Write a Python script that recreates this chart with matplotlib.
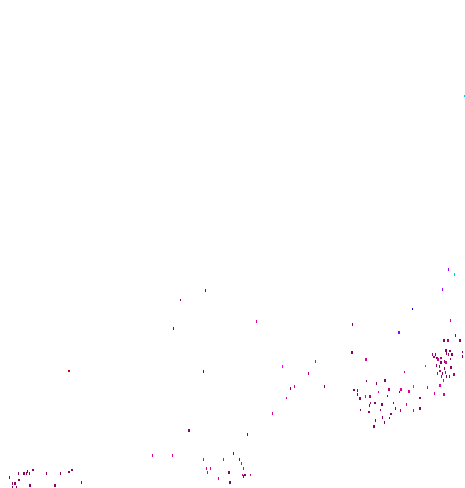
import matplotlib
matplotlib.use("Agg")
import matplotlib.pyplot as plt

# Point data (x, y in chart units; group label)
xs = [450.7, 455.7, 444, 448, 460, 446, 450, 462.7, 432.3, 435.3, 446.7, 448.7, 452, 462.7,
      434, 437, 438, 441, 441, 444.7, 446, 450.7, 425.3, 436.7, 439.3, 444.7, 451, 440,
      437.3, 442.7, 445.3, 446.7, 449.3, 454, 441.3, 443.3, 427.3, 440,
      412.7, 352.7, 399, 352, 366, 366.7, 404.3, 376.3, 385, 413.7, 354, 357.7, 389, 401,
      409, 378.7, 399.3, 357.7, 360, 365.3, 370, 387.7, 420, 370.3, 375, 382, 393.3, 406.3,
      369.3, 360.3, 369, 380.7, 395.3, 400.3, 413.7, 420, 391, 382.7, 389.7, 375.3, 384.3,
      374, 434.7, 444,
      315.3, 282.7, 308.7, 324.7, 290.3, 294.3, 286.7, 272.7,
      205.3, 180.7, 256.3, 173.7, 203.3, 189, 247.3, 152.3, 172.3, 203.3, 233.3, 223.7,
      239.7, 241.3, 206.3, 210.3, 207.3, 229, 243.3, 242.3, 245, 250.3, 243.3, 218.3, 230,
      33, 72, 69, 27.7, 18.3, 24, 26.3, 29.3, 46.7, 60.3, 9.3, 19, 12.3, 15, 81.7, 30, 55,
      12.7, 16.7,
      464.3, 448.7, 454.3, 442.3, 69]
ys = [320.3, 335.7, 340.7, 340.7, 340.7, 350.3, 351, 352, 354.3, 354.7, 353.7, 354.7, 354.3, 356.3,
      357, 358, 359.3, 358, 362.3, 361.3, 362.7, 359, 366, 365.7, 366.7, 368.3, 367.3, 371,
      373.3, 373.3, 372.3, 376.7, 376.7, 374.3, 376.7, 380.7, 387.7, 385.7,
      309, 324.7, 332.7, 352.3, 359.3, 381, 372, 383.3, 380.7, 386.7, 390, 390.3, 389.5, 389.3,
      391.3, 392, 392, 394.7, 398.7, 396.7, 396.7, 396, 398, 403, 403, 404.7, 403, 404.3,
      405.7, 410, 412, 410, 408.7, 410.3, 410.7, 408.7, 414, 417.7, 418, 420.3, 422.3,
      426.7, 393.7, 394.7,
      361.7, 366.7, 373.3, 386.3, 388.7, 386.7, 398, 413.3,
      290.7, 300, 321.3, 328.7, 371.7, 430.7, 434.7, 455.7, 455.7, 459.7, 453.7, 459.7,
      459.7, 463.7, 468.7, 468.7, 472.7, 472.7, 468.7, 475, 475, 475, 476.7, 478.7, 482.7,
      470, 470, 472, 471.7, 473.7, 473.7, 473.7, 473.7, 473.7, 473.7, 477.7, 480, 483.7, 483.7,
      482.7, 485.7, 485.7, 487, 487,
      96, 269.3, 274.3, 289.3, 371]
groups = [
    'c', 'a', 'a', 'b', 'a', 'a', 'a', 'a', 'b', 'a', 'a', 'b', 'a', 'a',
    'b', 'a', 'c', 'b', 'a', 'b', 'c', 'a', 'd', 'a', 'b', 'a', 'a', 'b',
    'b', 'a', 'b', 'a', 'b', 'b', 'b', 'c', 'c', 'c',
    'f', 'a', 'e', 'a', 'c', 'a', 'c', 'a', 'a', 'd', 'a', 'a', 'b', 'c',
    'c', 'c', 'a', 'a', 'a', 'c', 'b', 'a', 'a', 'b', 'a', 'a', 'a', 'c',
    'a', 'a', 'a', 'a', 'a', 'b', 'c', 'a', 'a', 'a', 'a', 'a', 'a',
    'a', 'c', 'c',
    'c', 'd', 'b', 'a', 'a', 'c', 'c', 'c',
    'a', 'a', 'c', 'a', 'a', 'a', 'a', 'c', 'c', 'c', 'a', 'c',
    'a', 'c', 'c', 'c', 'c', 'a', 'c', 'c', 'a', 'c', 'a', 'c', 'a',
    'a', 'a', 'a', 'a', 'a', 'a', 'a', 'a', 'a', 'a', 'a', 'a', 'a', 'a',
    'a', 'a', 'a', 'a', 'a',
    'g', 'e', 'g', 'e', 'h']

palette = {'a': '#8c005f', 'b': '#b0007a', 'c': '#dc0098', 'd': '#ff00ff',
           'e': '#9a00ff', 'f': '#0000cc', 'g': '#00ccee', 'h': '#cc0000'}
colors = [palette[g] for g in groups]

# thin upright rectangle marker
bar_marker = [(-0.4, -1.0), (0.4, -1.0), (0.4, 1.0), (-0.4, 1.0), (-0.4, -1.0)]

fig = plt.figure(figsize=(4.65, 4.88), dpi=100)
ax = fig.add_axes([0, 0, 1, 1])
ax.scatter(xs, ys, c=colors, s=4.0, marker=bar_marker, linewidths=0)
ax.set_xlim(0, 465)
ax.set_ylim(488, 0)
ax.axis('off')
fig.savefig("out.png", dpi=100, facecolor='white')
